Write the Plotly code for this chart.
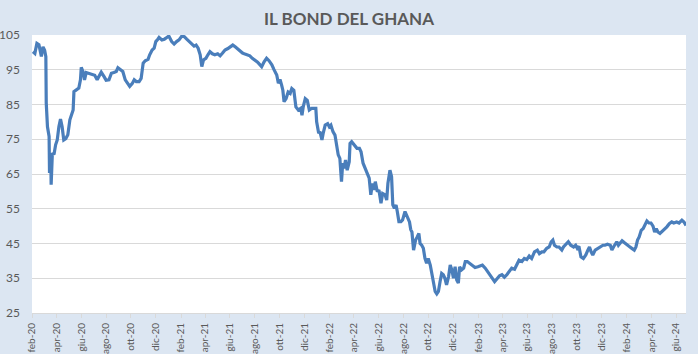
import pandas as pd
import plotly.graph_objects as go

# Days elapsed since 2020-02-01 and bond price
days = [2, 7, 12, 17, 23, 27, 31, 34, 35, 38, 42, 43, 46, 47, 50, 54, 58, 62, 66, 70,
        74, 78, 83, 88, 93, 97, 101, 103, 109, 115, 119, 121, 125, 129, 133, 140, 146, 154, 160, 165,
        170, 177, 182, 189, 195, 201, 207, 211, 218, 223, 229, 236, 240, 246, 251, 256, 263, 268, 273, 278,
        285, 289, 295, 300, 304, 309, 312, 319, 325, 331, 336, 343, 349, 355, 361, 368, 374, 380, 386, 392,
        398, 403, 408, 413, 417, 421, 427, 432, 437, 443, 449, 456, 462, 468, 474, 481, 486, 493, 499, 505,
        511, 517, 523, 530, 535, 541, 548, 554, 560, 564, 570, 576, 582, 589, 594, 601, 605, 609, 613, 616,
        619, 624, 629, 634, 638, 643, 648, 654, 660, 663, 666, 671, 676, 681, 687, 693, 697, 699, 704, 707,
        712, 715, 720, 726, 730, 734, 739, 744, 748, 752, 756, 760, 763, 766, 770, 774, 779, 781, 785, 791,
        798, 804, 808, 813, 818, 824, 828, 832, 836, 840, 843, 848, 852, 857, 861, 867, 871, 874, 879, 883,
        886, 890, 894, 897, 901, 906, 910, 916, 920, 927, 930, 933, 937, 942, 946, 950, 953, 957, 961, 965,
        969, 973, 978, 982, 986, 990, 994, 998, 1002, 1006, 1010, 1014, 1018, 1023, 1027, 1031, 1035, 1039, 1043, 1047,
        1050, 1055, 1060, 1064, 1069, 1076, 1082, 1088, 1095, 1100, 1106, 1113, 1119, 1125, 1131, 1136, 1141, 1148, 1154, 1160,
        1166, 1172, 1178, 1185, 1190, 1196, 1203, 1209, 1215, 1221, 1227, 1234, 1241, 1246, 1252, 1257, 1264, 1270, 1275, 1279,
        1283, 1289, 1294, 1301, 1305, 1312, 1317, 1323, 1330, 1335, 1339, 1343, 1348, 1354, 1360, 1365, 1369, 1373, 1377, 1383,
        1389, 1395, 1402, 1407, 1413, 1420, 1424, 1428, 1432, 1436, 1440, 1444, 1449, 1455, 1461, 1466, 1473, 1479, 1483, 1487,
        1491, 1496, 1501, 1506, 1510, 1515, 1520, 1525, 1529, 1533, 1537, 1542, 1549, 1553, 1559, 1565, 1571, 1576, 1583, 1589,
        1596, 1601, 1606]

prices = [100.2, 99.7, 102.6, 102.2, 98.8, 101.6, 100.6, 98.8, 85.4, 78.6, 75.8, 65.3, 71.0, 61.9, 71.0, 70.6, 73.4, 74.8, 78.6, 80.8,
          78.6, 74.8, 75.2, 76.3, 80.6, 82.0, 83.4, 88.7, 89.1, 89.7, 92.1, 95.7, 94.5, 92.1, 94.2, 94.0, 93.7, 93.4, 92.1, 93.0,
          94.3, 93.0, 92.0, 92.1, 94.0, 94.2, 94.5, 95.6, 95.1, 94.5, 92.1, 90.6, 90.2, 91.0, 92.1, 91.6, 91.6, 92.5, 96.9, 97.6,
          98.0, 99.3, 100.7, 101.2, 103.1, 103.8, 104.3, 103.6, 103.8, 104.3, 104.7, 103.1, 102.4, 103.1, 103.6, 104.7, 104.5, 103.8, 103.1, 102.6,
          101.8, 102.1, 101.2, 99.3, 95.9, 97.8, 98.3, 99.3, 100.2, 99.6, 99.3, 99.6, 99.0, 99.8, 100.7, 101.1, 101.5, 102.1, 101.6, 100.9,
          100.5, 99.8, 99.5, 99.3, 99.0, 98.3, 97.8, 97.2, 96.4, 95.9, 97.3, 98.3, 97.6, 96.4, 95.1, 93.5, 91.1, 92.2, 90.6, 89.1,
          85.8, 86.7, 88.6, 88.2, 89.6, 89.1, 84.3, 83.4, 83.9, 81.9, 84.3, 86.7, 86.2, 83.4, 83.9, 83.9, 83.9, 80.0, 76.7, 77.2,
          74.8, 76.7, 79.1, 79.5, 78.6, 79.1, 77.2, 76.2, 72.8, 70.5, 69.5, 62.8, 68.1, 66.6, 69.0, 66.1, 68.5, 73.8, 74.3, 73.3,
          72.4, 72.4, 71.4, 68.1, 66.6, 64.7, 63.8, 59.0, 62.3, 60.4, 62.8, 59.9, 60.4, 56.6, 59.4, 59.0, 57.5, 62.3, 66.1, 64.2,
          56.1, 55.1, 56.1, 54.2, 51.3, 51.3, 51.8, 54.2, 53.2, 51.2, 49.0, 48.3, 43.1, 46.0, 46.9, 47.9, 45.0, 44.5, 43.6, 40.7,
          39.3, 40.7, 38.8, 36.4, 33.1, 31.2, 30.5, 31.2, 34.0, 36.4, 36.0, 35.0, 33.1, 35.5, 38.8, 37.4, 35.0, 38.3, 34.5, 33.6,
          38.3, 37.4, 37.9, 39.8, 39.8, 39.1, 38.8, 38.1, 38.3, 38.5, 38.8, 37.9, 36.9, 36.0, 34.7, 34.0, 34.7, 35.7, 36.0, 35.3,
          36.0, 36.9, 37.9, 37.6, 38.8, 40.2, 39.8, 40.7, 40.4, 41.4, 40.7, 42.6, 43.1, 42.1, 42.6, 42.6, 43.6, 44.0, 45.5, 46.0,
          44.5, 44.0, 44.0, 43.1, 44.0, 45.0, 45.5, 44.5, 44.0, 44.5, 43.6, 44.2, 41.2, 40.7, 41.7, 43.1, 44.0, 42.6, 41.7, 43.1,
          43.6, 44.0, 44.5, 44.5, 44.8, 44.5, 43.1, 44.0, 45.0, 45.5, 44.5, 45.0, 45.8, 45.2, 44.8, 44.2, 43.6, 43.1, 44.0, 46.0,
          46.9, 48.8, 49.3, 50.7, 51.5, 50.9, 50.9, 50.0, 48.3, 49.3, 48.3, 47.9, 48.6, 49.0, 49.8, 50.7, 51.2, 50.9, 51.2, 50.9,
          51.7, 51.2, 50.2]

start_date = "2020-02-01"
title_text = "IL BOND DEL GHANA"
tick_dates = pd.date_range("2020-02-01", "2024-06-01", freq="2MS")
month_names = ["gen", "feb", "mar", "apr", "mag", "giu", "lug", "ago", "set", "ott", "nov", "dic"]
tick_labels = [f"{month_names[d.month - 1]}-{d.strftime('%y')}" for d in tick_dates]
y_ticks = [25, 35, 45, 55, 65, 75, 85, 95, 105]

dates = pd.Timestamp(start_date) + pd.to_timedelta(days, unit="D")

fig = go.Figure()
fig.add_trace(go.Scatter(x=dates, y=prices, mode="lines",
                         line=dict(color="#4a7ebb", width=3.2), hoverinfo="skip"))

txt = "#595959"
fig.update_layout(
    width=698, height=354,
    paper_bgcolor="#dce6f2", plot_bgcolor="#ffffff",
    margin=dict(l=32, r=12, t=35, b=41),
    showlegend=False,
    title=dict(text=f"<b>{title_text}</b>", x=0.5, xanchor="center",
               y=1 - 19 / 354, yref="container", yanchor="middle",
               font=dict(family="Lato, Open Sans, sans-serif", size=17, color=txt)),
    font=dict(family="Lato, Open Sans, sans-serif", size=12, color=txt),
)
fig.update_xaxes(
    range=[pd.Timestamp(start_date), dates[-1]],
    tickvals=tick_dates, ticktext=tick_labels, tickangle=-90,
    ticks="outside", ticklen=4, tickcolor="#d9d9d9",
    showline=True, linecolor="#d9d9d9", linewidth=1,
    showgrid=False, zeroline=False, automargin=False,
    ticklabelstandoff=1,
    tickfont=dict(size=10, color=txt),
)
fig.update_yaxes(
    range=[25, 105], tickvals=y_ticks,
    showgrid=True, gridcolor="#d9d9d9", gridwidth=1,
    showline=False, zeroline=False, ticks="",
    ticklabelstandoff=11, automargin=False,
    tickfont=dict(size=12, color=txt),
)

fig.write_html("out.html")
